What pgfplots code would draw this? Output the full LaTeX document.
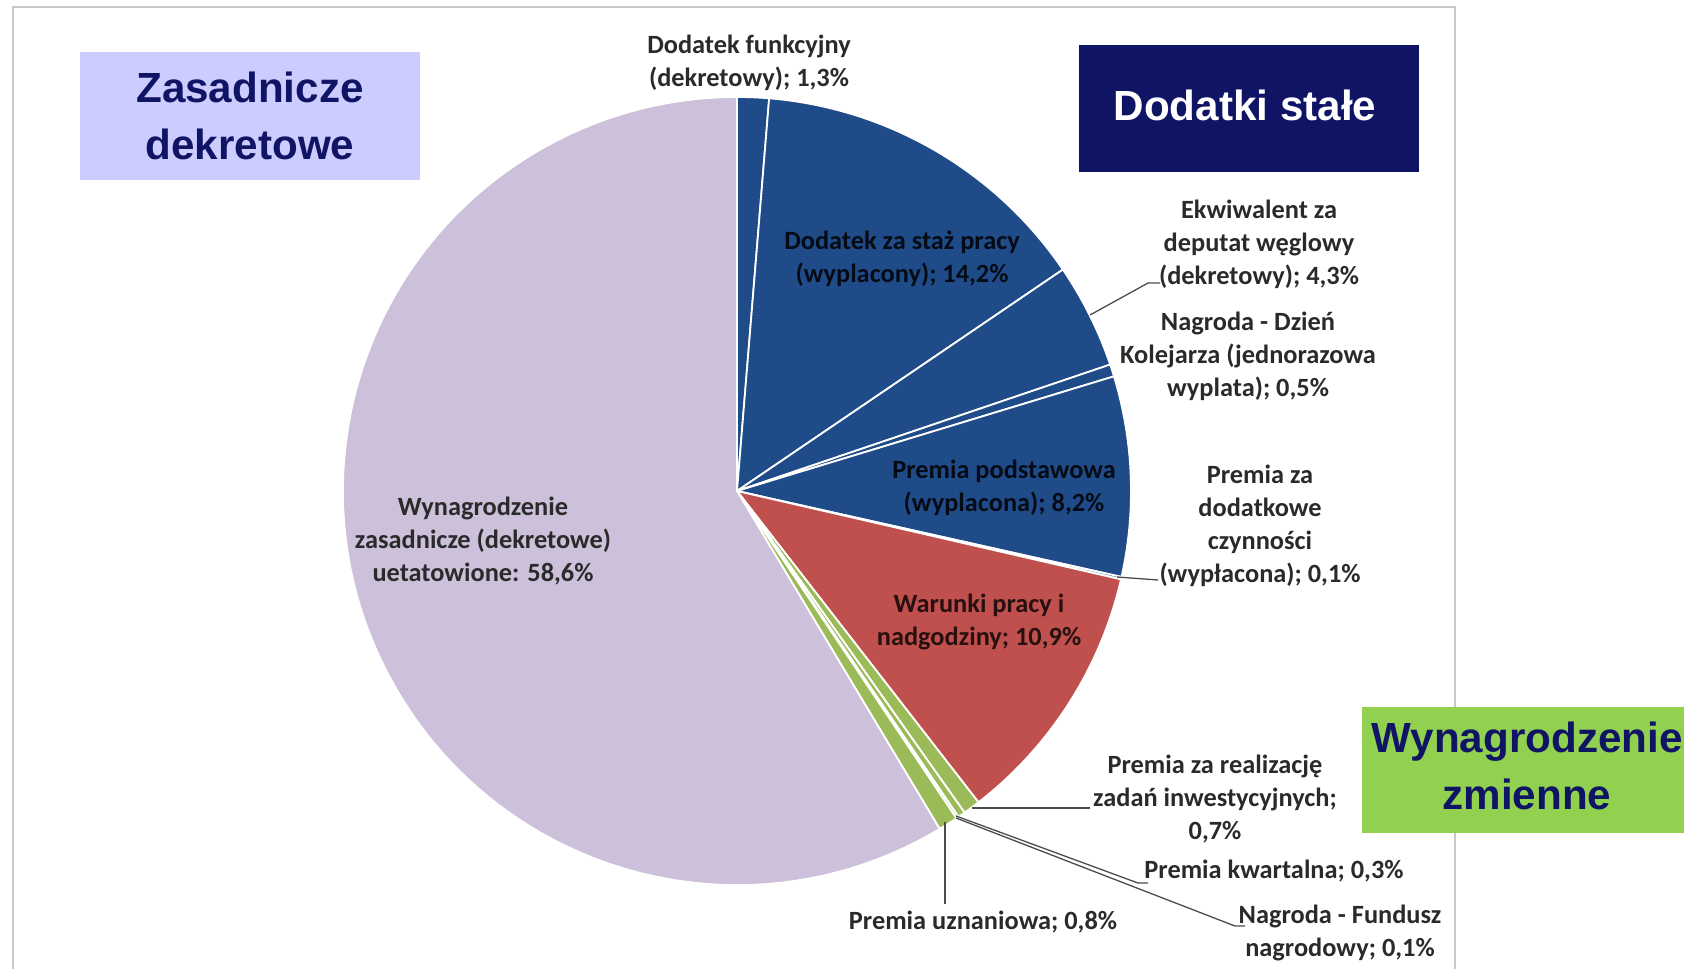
\documentclass[border=0pt]{standalone}
\usepackage{fontspec}
\setmainfont{Carlito}
\newfontfamily\arial{Liberation Sans}
\usepackage{pgfplots}
\usepackage{pgfplotstable}
\pgfplotsset{compat=1.18}

\definecolor{cblue}{HTML}{1F4C89}
\definecolor{cred}{HTML}{C0504D}
\definecolor{cgreen}{HTML}{9BBB59}
\definecolor{cpurple}{HTML}{CCC0DA}
\definecolor{lavbox}{HTML}{CCCCFF}
\definecolor{navy}{HTML}{0F1464}
\definecolor{greenbox}{HTML}{92D050}
\definecolor{lblgray}{HTML}{2A2A2A}
\definecolor{framegray}{HTML}{C8C8C8}

\tikzset{
    lbl/.style={font=\fontsize{7.5}{9.4}\selectfont\bfseries, text=lblgray, align=center, inner sep=0pt},
    boxlbl/.style={font=\arial\fontsize{12}{16}\selectfont\bfseries, align=center, inner sep=0pt},
    lead/.style={draw=black!70, line width=0.13mm},
}

% shares in %, clockwise from the top
\pgfplotstableread{
val col
1.3  cblue
14.2 cblue
4.3  cblue
0.5  cblue
8.2  cblue
0.1  cblue
10.9 cred
0.7  cgreen
0.3  cgreen
0.1  cgreen
0.8  cgreen
58.6 cpurple
}\piedata

\begin{document}
\begin{tikzpicture}
\begin{axis}[
    x=1cm, y=1cm,
    xmin=0, xmax=16.84, ymin=0, ymax=9.69,
    hide axis, clip=false,
]
% frame
\draw[framegray, line width=0.25mm] (axis cs:0.13,0) -- (axis cs:0.13,9.62) -- (axis cs:14.55,9.62) -- (axis cs:14.55,0);

% pie
\pgfplotsextra{
  \def\cum{0}
  \pgfplotsforeachungrouped \i in {0,...,11}{
    \pgfplotstablegetelem{\i}{val}\of\piedata \let\v=\pgfplotsretval
    \pgfplotstablegetelem{\i}{col}\of\piedata \let\c=\pgfplotsretval
    \pgfmathsetmacro\a{90-3.6*\cum}
    \pgfmathsetmacro\b{90-3.6*(\cum+\v)}
    \fill[fill=\c, draw=white, line width=0.18mm, line join=round]
      (axis cs:7.37,4.78) -- ++(\a:3.94) arc[start angle=\a, end angle=\b, radius=3.94] -- cycle;
    \pgfmathsetmacro\cum{\cum+\v}
  }
}

% boxes
\fill[lavbox] (axis cs:0.80,7.89) rectangle (axis cs:4.20,9.17);
\node[boxlbl, text=navy] at (axis cs:2.50,8.53) {Zasadnicze\\dekretowe};
\fill[navy] (axis cs:10.79,7.97) rectangle (axis cs:14.19,9.24);
\node[boxlbl, text=white] at (axis cs:12.45,8.64) {Dodatki stałe};
\fill[greenbox] (axis cs:13.62,1.36) rectangle (axis cs:16.84,2.62);
\node[boxlbl, text=navy] at (axis cs:15.27,2.03) {Wynagrodzenie\\zmienne};

% leader lines
\draw[lead] (axis cs:10.90,6.54) -- (axis cs:11.48,6.86) -- (axis cs:11.60,6.86);
\draw[lead] (axis cs:11.17,3.92) -- (axis cs:11.58,3.89);
\draw[lead] (axis cs:9.72,1.61) -- (axis cs:10.90,1.61);
\draw[lead] (axis cs:9.56,1.53) -- (axis cs:11.38,0.86) -- (axis cs:11.48,0.86);
\draw[lead] (axis cs:9.56,1.51) -- (axis cs:12.35,0.43) -- (axis cs:12.45,0.43);
\draw[lead] (axis cs:9.45,1.47) -- (axis cs:9.45,0.65);

% slice labels
\node[lbl] at (axis cs:7.49,9.06) {Dodatek funkcyjny\\(dekretowy); 1,3\%};
\node[lbl, text=black!85!cblue] at (axis cs:9.02,7.10) {Dodatek za staż pracy\\(wyplacony); 14,2\%};
\node[lbl] at (axis cs:12.59,7.25) {Ekwiwalent za\\deputat węglowy\\(dekretowy); 4,3\%};
\node[lbl] at (axis cs:12.48,6.13) {Nagroda - Dzień\\Kolejarza (jednorazowa\\wyplata); 0,5\%};
\node[lbl, text=black!85!cblue] at (axis cs:10.04,4.81) {Premia podstawowa\\(wyplacona); 8,2\%};
\node[lbl] at (axis cs:12.60,4.43) {Premia za\\dodatkowe\\czynności\\(wypłacona); 0,1\%};
\node[lbl, text=black!80!cred] at (axis cs:9.79,3.47) {Warunki pracy i\\nadgodziny; 10,9\%};
\node[lbl] at (axis cs:12.15,1.70) {Premia za realizację\\zadań inwestycyjnych;\\0,7\%};
\node[lbl] at (axis cs:12.74,0.98) {Premia kwartalna; 0,3\%};
\node[lbl] at (axis cs:13.40,0.36) {Nagroda - Fundusz\\nagrodowy; 0,1\%};
\node[lbl] at (axis cs:9.83,0.47) {Premia uznaniowa; 0,8\%};
\node[lbl] at (axis cs:4.83,4.28) {Wynagrodzenie\\zasadnicze (dekretowe)\\uetatowione: 58,6\%};
\end{axis}
\pgfresetboundingbox
\useasboundingbox (0,0) rectangle (16.84,9.69);
\end{tikzpicture}
\end{document}
